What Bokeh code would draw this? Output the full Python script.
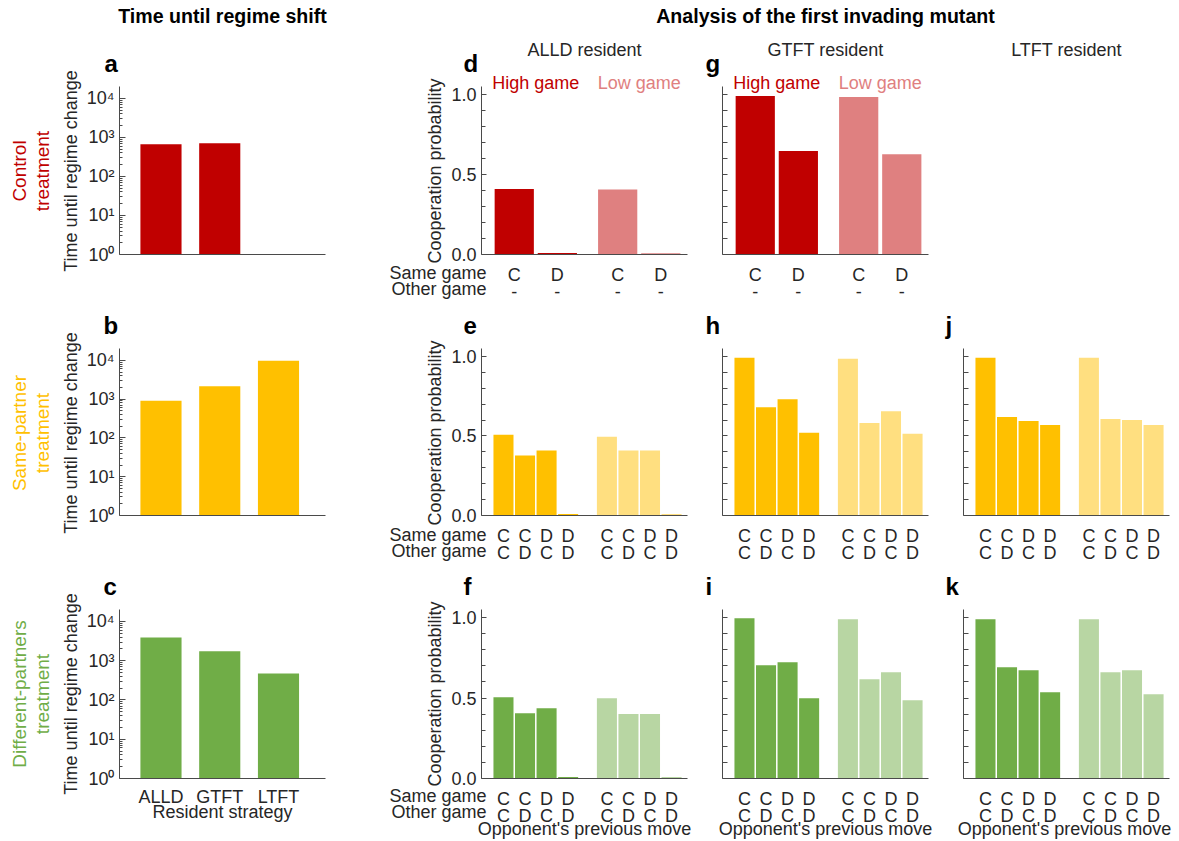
import math
from bokeh.plotting import figure
from bokeh.layouts import row, column
from bokeh.models import Range1d, FixedTicker, Label, GridBox
from bokeh.embed import file_html
from bokeh.resources import INLINE

# ---------------- data ----------------
strategies = ["ALLD", "GTFT", "LTFT"]
time_control = [670, 705]          # LTFT has no bar in the control treatment
time_same = [910, 2150, 9800]
time_diff = [3900, 1740, 470]

prev_two = ["C", "D"]
same_game4 = ["C", "C", "D", "D"]
other_game4 = ["C", "D", "C", "D"]

alld_ctrl_high = [0.41, 0.01]
alld_ctrl_low = [0.407, 0.008]
gtft_ctrl_high = [0.99, 0.647]
gtft_ctrl_low = [0.985, 0.627]

alld_same_high = [0.507, 0.377, 0.408, 0.01]
alld_same_low = [0.495, 0.408, 0.408, 0.01]
gtft_same_high = [0.992, 0.681, 0.731, 0.52]
gtft_same_low = [0.986, 0.582, 0.656, 0.514]
ltft_same_high = [0.992, 0.619, 0.594, 0.569]
ltft_same_low = [0.992, 0.607, 0.600, 0.569]

alld_diff_high = [0.505, 0.406, 0.437, 0.01]
alld_diff_low = [0.499, 0.400, 0.400, 0.01]
gtft_diff_high = [0.996, 0.704, 0.722, 0.499]
gtft_diff_low = [0.990, 0.617, 0.660, 0.486]
ltft_diff_high = [0.990, 0.691, 0.673, 0.536]
ltft_diff_low = [0.990, 0.660, 0.673, 0.524]

# ---------------- style / layout ----------------
FONT = "Liberation Sans"
TXT = "#262626"
AX = "#4a4a4a"
RED, RED_L = "#C00000", "#DF8080"
YEL, YEL_L = "#FFC000", "#FFDF80"
GRN, GRN_L = "#70AD47", "#B8D6A3"

W, H = 1179, 841
FW, FH = 206, 169
COLS = {"A": (390, 119, 65), "D": (310, 91, 13),
        "G": (240, 22, 12), "J": (239, 23, 10)}
ROWS = {1: (305, 86, 50), 2: (261, 43, 49), 3: (275, 43, 63)}
# frame positions on the page (from the sizes above)
FL, FT = {}, {}
_x = 0
for k in ["A", "D", "G", "J"]:
    FL[k] = _x + COLS[k][1]
    _x += COLS[k][0]
_y = 0
for k in [1, 2, 3]:
    FT[k] = _y + ROWS[k][1]
    _y += ROWS[k][0]
FB = {k: FT[k] + FH for k in FT}
CX = {k: FL[k] + FW / 2 for k in FL}
CY = {k: FT[k] + FH / 2 for k in FT}

COOP_X = (-0.2, 95.4)


def make_fig(col, rw, x_range, y_range, log=False, axes=True):
    w, bl, br = COLS[col]
    h, bt, bb = ROWS[rw]
    kw = {}
    if not axes:
        kw = dict(x_axis_location=None, y_axis_location=None)
    p = figure(width=w, height=h, x_range=x_range, y_range=y_range,
               y_axis_type="log" if log else "linear",
               output_backend="svg", toolbar_location=None,
               min_border_left=bl, min_border_right=br,
               min_border_top=bt, min_border_bottom=bb, **kw)
    p.outline_line_color = None
    p.background_fill_color = "white"
    p.border_fill_color = "white"
    p.grid.visible = False
    if axes:
        for ax in (p.xaxis[0], p.yaxis[0]):
            ax.axis_line_color = AX
            ax.axis_line_width = 1
            ax.major_tick_line_color = AX
            ax.minor_tick_line_color = AX
            ax.major_label_text_font = FONT
            ax.major_label_text_font_size = "18px"
            ax.major_label_text_color = TXT
        xa = p.xaxis[0]
        xa.major_tick_in = 0
        xa.major_tick_out = 0
        xa.minor_tick_in = 0
        xa.minor_tick_out = 0
        xa.major_label_standoff = 10
        xa.major_label_text_line_height = 0.89
        ya = p.yaxis[0]
        ya.major_tick_out = 0
        ya.minor_tick_out = 0
        ya.major_label_standoff = 5
    return p


# ---------------- overlay with all free texts ----------------
ov = figure(width=W, height=H, x_range=Range1d(0, W), y_range=Range1d(0, H),
            output_backend="svg", toolbar_location=None, min_border=0,
            x_axis_location=None, y_axis_location=None)
ov.outline_line_color = None
ov.background_fill_color = None
ov.border_fill_color = None
ov.grid.visible = False


def txt(text, x, ytop, size="18px", color=TXT, style="normal", align="center",
        angle=0.0):
    """x, ytop: page position of the text's visual centre line."""
    ov.add_layout(Label(x=x, y=H - ytop, text=text, text_font=FONT,
                        text_font_size=size, text_color=color,
                        text_font_style=style, text_align=align,
                        text_baseline="alphabetic", angle=angle))


def coop_to_px(col, xv):
    return FL[col] + (xv - COOP_X[0]) / (COOP_X[1] - COOP_X[0]) * FW


# headers
txt("Time until regime shift", CX["A"], 15.2, size="19.6px", color="black", style="bold")
txt("Analysis of the first invading mutant", (FL["D"] + FL["J"] + FW) / 2, 15.2,
    size="19.6px", color="black", style="bold")
for c, t in [("D", "ALLD resident"), ("G", "GTFT resident"), ("J", "LTFT resident")]:
    txt(t, CX[c], FT[1] - 37)

# panel letters
letters = [("a", "A", 1, 15), ("b", "A", 2, 16), ("c", "A", 3, 16),
           ("d", "D", 1, 18), ("e", "D", 2, 18), ("f", "D", 3, 18),
           ("g", "G", 1, 17), ("h", "G", 2, 17), ("i", "G", 3, 17),
           ("j", "J", 2, 18), ("k", "J", 3, 18)]
for ch, c, r, dx in letters:
    txt(ch, FL[c] - dx, FT[r] - 23, size="24px", color="black", style="bold",
        align="left")

# treatment row labels
rowlabels = [(1, "Control", RED), (2, "Same-partner", YEL), (3, "Different-partners", GRN)]
for r, name, colr in rowlabels:
    txt(name, FL["A"] - 100.3, CY[r], size="19px", color=colr, angle=math.pi / 2)
    txt("treatment", FL["A"] - 77, CY[r], size="19px", color=colr, angle=math.pi / 2)

# axis titles
for r in [1, 2, 3]:
    txt("Time until regime change", FL["A"] - 49, CY[r], angle=math.pi / 2)
    txt("Cooperation probability", FL["D"] - 47, CY[r], angle=math.pi / 2)
    txt("Same game", FL["D"] + 5, FB[r] + 17.5, align="right")
    txt("Other game", FL["D"] + 5, FB[r] + 33.5, align="right")
txt("Resident strategy", CX["A"], FB[3] + 33)
for c in ["D", "G", "J"]:
    txt("Opponent's previous move", CX[c] - (2 if c == "J" else 0), FB[3] + 50.5)

# high / low game labels
for c in ["D", "G"]:
    txt("High game", coop_to_px(c, 25), FT[1] - 3.5, color=RED)
    txt("Low game", coop_to_px(c, 73), FT[1] - 3.5, color=RED_L)


# ---------------- time panels ----------------
def time_panel(rw, values, color, show_x):
    p = make_fig("A", rw, Range1d(0.294, 3.8), Range1d(1, 20200), log=True)
    xs = [i + 1 for i in range(len(values))]
    p.vbar(x=xs, top=values, bottom=1, width=0.70, fill_color=color,
           line_color=None)
    ya = p.yaxis[0]
    ya.ticker = FixedTicker(
        ticks=[1, 10, 100, 1000, 10000],
        minor_ticks=[m * 10 ** k for k in range(4) for m in range(2, 10)])
    ya.major_label_overrides = {1: "10⁰", 10: "10¹", 100: "10²",
                                1000: "10³", 10000: "10⁴"}
    ya.major_tick_in = 6
    ya.minor_tick_in = 3
    xa = p.xaxis[0]
    if show_x:
        xa.ticker = FixedTicker(ticks=[1, 2, 3])
        xa.major_label_overrides = {i + 1: s for i, s in enumerate(strategies)}
        xa.major_label_standoff = 8
    else:
        xa.ticker = FixedTicker(ticks=[])
    return p


# ---------------- cooperation panels ----------------
def coop_panel(col, rw, high, low, c_hi, c_lo, ylabels=False):
    p = make_fig(col, rw, Range1d(*COOP_X), Range1d(0, 1.05))
    n = len(high)
    if n == 2:
        hx = [15 + 20 * i for i in range(n)]
        lx = [63 + 20 * i for i in range(n)]
        wd = 18.2
        names = [prev_two[i] + "\n-" for i in range(n)]
    else:
        hx = [10 + 10 * i for i in range(n)]
        lx = [58 + 10 * i for i in range(n)]
        wd = 9.3
        names = [same_game4[i] + "\n" + other_game4[i] for i in range(n)]
    p.vbar(x=hx, top=high, width=wd, fill_color=c_hi, line_color=None)
    p.vbar(x=lx, top=low, width=wd, fill_color=c_lo, line_color=None)
    xa = p.xaxis[0]
    xa.ticker = FixedTicker(ticks=hx + lx)
    ovr = {}
    for i in range(n):
        ovr[hx[i]] = names[i]
        ovr[lx[i]] = names[i]
    xa.major_label_overrides = ovr
    ya = p.yaxis[0]
    tenths = [k / 10 for k in range(0, 11)]
    if ylabels:
        ya.ticker = FixedTicker(ticks=[0, 0.5, 1.0],
                                minor_ticks=[t for t in tenths if t not in (0, 0.5, 1.0)])
        ya.major_label_overrides = {0: "0.0", 0.5: "0.5", 1: "1.0"}
        ya.major_tick_in = 5
        ya.minor_tick_in = 4
    else:
        # unlabeled axis: ticks only
        ya.ticker = FixedTicker(ticks=[], minor_ticks=tenths)
        ya.minor_tick_in = 5
    return p


pa = time_panel(1, time_control, RED, False)
pb = time_panel(2, time_same, YEL, False)
pc = time_panel(3, time_diff, GRN, True)

pd = coop_panel("D", 1, alld_ctrl_high, alld_ctrl_low, RED, RED_L, ylabels=True)
pg = coop_panel("G", 1, gtft_ctrl_high, gtft_ctrl_low, RED, RED_L)
pj0 = make_fig("J", 1, Range1d(0, 1), Range1d(0, 1), axes=False)

pe = coop_panel("D", 2, alld_same_high, alld_same_low, YEL, YEL_L, ylabels=True)
ph = coop_panel("G", 2, gtft_same_high, gtft_same_low, YEL, YEL_L)
pjj = coop_panel("J", 2, ltft_same_high, ltft_same_low, YEL, YEL_L)

pf = coop_panel("D", 3, alld_diff_high, alld_diff_low, GRN, GRN_L, ylabels=True)
pi_ = coop_panel("G", 3, gtft_diff_high, gtft_diff_low, GRN, GRN_L)
pk = coop_panel("J", 3, ltft_diff_high, ltft_diff_low, GRN, GRN_L)

panels = column(row(pa, pd, pg, pj0),
                row(pb, pe, ph, pjj),
                row(pc, pf, pi_, pk))

layout = GridBox(children=[(panels, 0, 0), (ov, 0, 0)])

open("out.html", "w").write(file_html(layout, INLINE))
